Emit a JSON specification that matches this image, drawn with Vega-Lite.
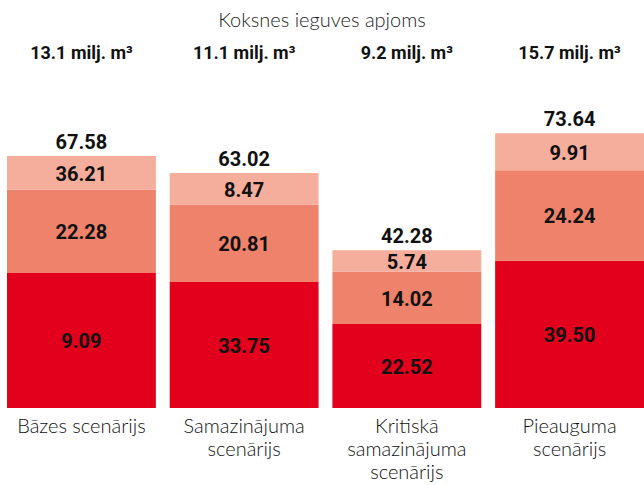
{
  "$schema": "https://vega.github.io/schema/vega-lite/v6.json",
  "width": 644,
  "height": 368,
  "autosize": {"type": "none"},
  "padding": {"top": 40, "bottom": 77, "left": 0, "right": 0},
  "background": "white",
  "title": {"text": "Koksnes ieguves apjoms", "font": "Lato", "fontWeight": 300, "fontSize": 20, "color": "#222", "anchor": "middle", "offset": 9},
  "config": {"view": {"stroke": null}},
  "datasets": {
    "segments": [
      {"scenario": "Bāzes scenārijs", "segment": 1, "value": 36.21, "label": "9.09"},
      {"scenario": "Bāzes scenārijs", "segment": 2, "value": 22.28, "label": "22.28"},
      {"scenario": "Bāzes scenārijs", "segment": 3, "value": 9.09, "label": "36.21"},
      {"scenario": "Samazinājuma|scenārijs", "segment": 1, "value": 33.75, "label": "33.75"},
      {"scenario": "Samazinājuma|scenārijs", "segment": 2, "value": 20.81, "label": "20.81"},
      {"scenario": "Samazinājuma|scenārijs", "segment": 3, "value": 8.47, "label": "8.47"},
      {"scenario": "Kritiskā|samazinājuma|scenārijs", "segment": 1, "value": 22.52, "label": "22.52"},
      {"scenario": "Kritiskā|samazinājuma|scenārijs", "segment": 2, "value": 14.02, "label": "14.02"},
      {"scenario": "Kritiskā|samazinājuma|scenārijs", "segment": 3, "value": 5.74, "label": "5.74"},
      {"scenario": "Pieauguma|scenārijs", "segment": 1, "value": 39.5, "label": "39.50"},
      {"scenario": "Pieauguma|scenārijs", "segment": 2, "value": 24.24, "label": "24.24"},
      {"scenario": "Pieauguma|scenārijs", "segment": 3, "value": 9.91, "label": "9.91"}
    ],
    "totals": [
      {"scenario": "Bāzes scenārijs", "total": 67.58, "volume": "13.1 milj. m³"},
      {"scenario": "Samazinājuma|scenārijs", "total": 63.02, "volume": "11.1 milj. m³"},
      {"scenario": "Kritiskā|samazinājuma|scenārijs", "total": 42.28, "volume": "9.2 milj. m³"},
      {"scenario": "Pieauguma|scenārijs", "total": 73.64, "volume": "15.7 milj. m³"}
    ]
  },
  "encoding": {
    "x": {
      "field": "scenario", "type": "nominal", "sort": null, "title": null,
      "scale": {"domain": ["Bāzes scenārijs", "Samazinājuma|scenārijs", "Kritiskā|samazinājuma|scenārijs", "Pieauguma|scenārijs"], "range": [7, 644], "paddingInner": 0.085, "paddingOuter": 0},
      "axis": {"labelAngle": 0, "domain": false, "ticks": false, "labelFont": "Lato", "labelFontWeight": 300, "labelFontSize": 20, "labelColor": "#111", "labelLineHeight": 23, "labelPadding": 8, "labelBaseline": "top", "labelExpr": "split(datum.label, '|')"}
    }
  },
  "layer": [
    {
      "data": {"name": "segments"},
      "mark": {"type": "bar"},
      "encoding": {
        "y": {"field": "value", "type": "quantitative", "aggregate": "sum", "stack": "zero", "scale": {"domain": [0, 98.66], "nice": false, "zero": true}, "axis": null},
        "color": {"field": "segment", "type": "ordinal", "scale": {"domain": [1, 2, 3], "range": ["#E2001C", "#EE826A", "#F5AE9C"]}, "legend": null},
        "order": {"field": "segment", "type": "quantitative", "sort": "ascending"}
      }
    },
    {
      "data": {"name": "segments"},
      "transform": [
        {"stack": "value", "groupby": ["scenario"], "sort": [{"field": "segment", "order": "ascending"}], "as": ["v0", "v1"]},
        {"fold": ["v0", "v1"], "as": ["edge", "pos"]},
        {"aggregate": [{"op": "mean", "field": "pos", "as": "mid"}], "groupby": ["scenario", "label"]}
      ],
      "mark": {"type": "text", "font": "Roboto", "fontWeight": "bold", "fontSize": 20, "color": "#111", "baseline": "middle", "dy": 2},
      "encoding": {
        "y": {"field": "mid", "type": "quantitative", "axis": null},
        "text": {"field": "label"}
      }
    },
    {
      "data": {"name": "totals"},
      "mark": {"type": "text", "font": "Roboto", "fontWeight": "bold", "fontSize": 20, "color": "#111", "baseline": "alphabetic", "dy": -7},
      "encoding": {
        "y": {"field": "total", "type": "quantitative", "axis": null},
        "text": {"field": "total", "format": ".2f"}
      }
    },
    {
      "data": {"name": "totals"},
      "mark": {"type": "text", "font": "Roboto", "fontWeight": "bold", "fontSize": 18, "color": "#111", "baseline": "alphabetic"},
      "encoding": {
        "y": {"datum": 93.6, "type": "quantitative", "axis": null},
        "text": {"field": "volume"}
      }
    }
  ]
}
